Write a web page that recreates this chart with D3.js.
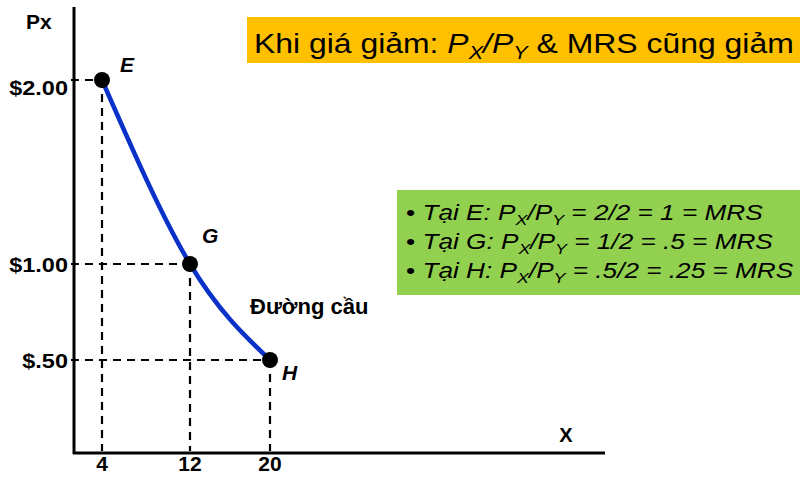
<!DOCTYPE html>
<html>
<head>
<meta charset="utf-8">
<script src="https://cdn.jsdelivr.net/npm/d3@7"></script>
<style>
  body { margin: 0; background: #fff; }
  svg { display: block; font-family: "Liberation Sans", Arial, sans-serif; }
</style>
</head>
<body>
<svg id="chart" width="802" height="477"></svg>
<script>
// ---- data ----
const pointNames = ["E", "G", "H"];
const quantityX = [4, 12, 20];
const pricePx = [2.00, 1.00, 0.50];
const yTickLabels = ["$2.00", "$1.00", "$.50"];
const xTickLabels = ["4", "12", "20"];
const curveLabel = "Đường cầu";
const yAxisTitle = "Px";
const xAxisTitle = "X";
const infoLines = [
  { who: "Tại E", ratio: "2/2", result: "1" },
  { who: "Tại G", ratio: "1/2", result: ".5" },
  { who: "Tại H", ratio: ".5/2", result: ".25" }
];

// ---- layout ----
const svg = d3.select("#chart");
const axisX0 = 74, axisY0 = 453;

const x = d3.scaleLinear()
  .domain([0, 4, 12, 20, 32])
  .range([axisX0, 102, 190, 270, 605]);
const y = d3.scaleLinear()
  .domain([0, 0.5, 1, 2])
  .range([axisY0, 360, 264, 80]);

const pts = quantityX.map((q, i) => ({ name: pointNames[i], q, p: pricePx[i], yl: yTickLabels[i], xl: xTickLabels[i] }));

// title box (orange)
svg.append("rect").attr("x", 247).attr("y", 17).attr("width", 553).attr("height", 46).attr("fill", "#FFC000");
const title = svg.append("text").attr("transform", "translate(254,53) scale(1.14,1)")
  .attr("font-size", 28).attr("fill", "#000");
title.append("tspan").text("Khi giá giảm: ");
title.append("tspan").attr("font-style", "italic").text("P");
title.append("tspan").attr("font-style", "italic").attr("font-size", 19).attr("dy", 6).text("X");
title.append("tspan").attr("font-style", "italic").attr("dy", -6).text("/P");
title.append("tspan").attr("font-style", "italic").attr("font-size", 19).attr("dy", 6).text("Y");
title.append("tspan").attr("dy", -6).text(" & MRS cũng giảm");

// info box (green)
svg.append("rect").attr("x", 397).attr("y", 190).attr("width", 403).attr("height", 105).attr("fill", "#92D050");
infoLines.forEach((d, i) => {
  const t = svg.append("text").attr("transform", `translate(406,${220 + i * 29}) scale(1.19,1)`)
    .attr("font-size", 22).attr("fill", "#000");
  t.append("tspan").text("• ");
  t.append("tspan").attr("font-style", "italic").text(d.who + ": P");
  t.append("tspan").attr("font-style", "italic").attr("font-size", 15).attr("dy", 5).text("X");
  t.append("tspan").attr("font-style", "italic").attr("dy", -5).text("/P");
  t.append("tspan").attr("font-style", "italic").attr("font-size", 15).attr("dy", 5).text("Y");
  t.append("tspan").attr("font-style", "italic").attr("dy", -5).text(" = " + d.ratio + " = " + d.result + " = MRS");
});

// axes
svg.append("line").attr("x1", axisX0).attr("x2", axisX0).attr("y1", 7).attr("y2", axisY0 + 1)
  .attr("stroke", "#000").attr("stroke-width", 3);
svg.append("line").attr("x1", axisX0 - 1).attr("x2", x(32)).attr("y1", axisY0).attr("y2", axisY0)
  .attr("stroke", "#000").attr("stroke-width", 3);

// dashed guides
const dash = "8,6";
pts.forEach(d => {
  svg.append("line").attr("x1", axisX0 - 3).attr("x2", x(d.q)).attr("y1", y(d.p)).attr("y2", y(d.p))
    .attr("stroke", "#000").attr("stroke-width", 2.2).attr("stroke-dasharray", dash);
  svg.append("line").attr("x1", x(d.q)).attr("x2", x(d.q)).attr("y1", y(d.p)).attr("y2", axisY0 - 2)
    .attr("stroke", "#000").attr("stroke-width", 2.2).attr("stroke-dasharray", dash);
});

// demand curve
const line = d3.line().x(d => x(d.q)).y(d => y(d.p)).curve(d3.curveNatural);
svg.append("path").datum(pts).attr("d", line).attr("fill", "none")
  .attr("stroke", "#0A32C8").attr("stroke-width", 4.5);

// points
svg.selectAll("circle.pt").data(pts).enter().append("circle")
  .attr("cx", d => x(d.q)).attr("cy", d => y(d.p)).attr("r", 8).attr("fill", "#000");

// point labels (baseline offsets)
const ptOff = { E: [18, -8], G: [12, -21], H: [12, 20] };
svg.selectAll("text.pl").data(pts).enter().append("text")
  .attr("x", d => x(d.q) + ptOff[d.name][0]).attr("y", d => y(d.p) + ptOff[d.name][1])
  .attr("font-size", 21).attr("font-weight", "bold").attr("font-style", "italic").text(d => d.name);

// y tick labels
svg.selectAll("text.yl").data(pts).enter().append("text")
  .attr("transform", (d, i) => `translate(68,${y(d.p) + (i === 0 ? 15 : 8)}) scale(1.12,1)`)
  .attr("text-anchor", "end")
  .attr("font-size", 21).attr("font-weight", "bold").text(d => d.yl);

// x tick labels
svg.selectAll("text.xl").data(pts).enter().append("text")
  .attr("x", d => x(d.q)).attr("y", 471)
  .attr("text-anchor", "middle")
  .attr("font-size", 21).attr("font-weight", "bold").text(d => d.xl);

// axis titles
svg.append("text").attr("x", 26).attr("y", 29).attr("font-size", 21).attr("font-weight", "bold").text(yAxisTitle);
svg.append("text").attr("x", 566).attr("y", 442).attr("text-anchor", "middle")
  .attr("font-size", 20).attr("font-weight", "bold").text(xAxisTitle);

// curve label
svg.append("text").attr("x", 250).attr("y", 314)
  .attr("font-size", 22).attr("font-weight", "bold").text(curveLabel);
</script>
</body>
</html>
